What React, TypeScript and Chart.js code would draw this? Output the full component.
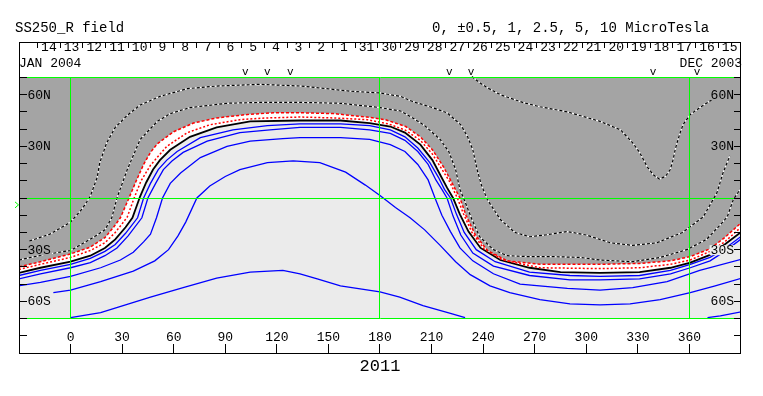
import React, { useEffect, useRef } from 'react';
import { Chart, registerables } from 'chart.js';

Chart.register(...registerables);

type Pt = [number, number];

// ---- axes / frame values ----
const LON_MIN = -29.4;
const LON_MAX = 390;
const LAT_MIN = -90;
const LAT_MAX = 90;
const FIELD_TOP = 70;
const FIELD_BOTTOM = -70;

const titleLeft = 'SS250_R field';
const titleRight = '0, \u00b10.5, 1, 2.5, 5, 10 MicroTesla';
const yearLabel = '2011';
const startDateLabel = 'JAN 2004';
const endDateLabel = 'DEC 2003';

const lonTickValues = [0, 30, 60, 90, 120, 150, 180, 210, 240, 270, 300, 330, 360];
const latLabelValues = [60, 30, -30, -60];
const latLabelTexts = ['60N', '30N', '30S', '60S'];
const latMinorTicks = [-80, -70, -60, -50, -40, -30, -20, -10, 0, 10, 20, 30, 40, 50, 60, 70];
const dayLabels = ['14', '13', '12', '11', '10', '9', '8', '7', '6', '5', '4', '3', '2', '1', '31',
  '30', '29', '28', '27', '26', '25', '24', '23', '22', '21', '20', '19', '18', '17', '16', '15'];
const firstDayTickLon = -19.2;
const degPerDay = 13.2;
const markerLons = [101.6, 114.4, 127.8, 220.3, 233.0, 338.9, 364.5];
const earthLat = -4;
const greenLons = [0, 180, 360];
const greenLats = [70, 0, -70];

// ---- contours (lon, lat) ----
const pos10: Pt[] = [[233.5, 70.5], [238, 67], [242.5, 64], [250, 60], [263, 55.5], [273, 53], [289, 50], [308, 44.5], [320, 39.5], [327, 32], [331, 26.5], [335.5, 18], [339, 13.5], [342.5, 11], [346, 12.5], [348.8, 16.4], [350.5, 22.2], [351.7, 28], [352.8, 32], [354.6, 37.9], [356.3, 42.6], [360.4, 48.4], [366, 52.5], [373, 57], [380, 62]];
const pos5: Pt[] = [[-24, -25], [-12, -21], [0, -14], [7, -6], [11.5, 1], [15.5, 12], [17, 20.5], [21, 32], [26, 41], [33, 48], [40.5, 54], [52, 59], [68, 63.5], [85, 65], [110, 66], [134, 65], [163, 62], [180, 61], [192, 59], [199, 56], [209, 53], [219, 49.5], [227, 42.5], [231, 35.5], [234, 28], [236.5, 16.5], [239, 7.5], [242.5, -1], [250, -12.5], [258.5, -20], [267, -22.5], [276, -21.5], [289, -19.5], [300, -21.5], [314, -26], [327, -27.5], [341, -26], [356, -20], [368, -11], [376, 3], [379.5, 14.5], [383.5, 24.5]];
const pos2_5: Pt[] = [[-30, -36], [-16, -33], [0, -30.5], [13, -23], [20, -18.5], [24, -11.5], [27, 0], [33, 16.5], [40.5, 34], [50.5, 44.5], [58, 49], [69.5, 52.5], [91, 55], [110, 55.5], [134, 55.5], [157, 55], [180, 52.5], [192, 50.5], [199, 46.5], [206, 42], [215, 34], [220, 27], [224, 16.5], [226.5, 5], [229, -1], [233.5, -12.5], [238, -22.5], [246, -30], [254, -33.5], [265.5, -34], [279, -34], [296.5, -34.5], [308, -36], [327, -37], [343, -34.5], [358.5, -30], [370, -24], [378, -15.5], [382, -11], [385.5, -1], [390.5, 6.5]];
const pos1: Pt[] = [[-30, -40], [-17.5, -37], [0, -32.5], [11.5, -28.5], [20, -23], [25, -17], [29, -11.5], [34, 0], [38, 9.5], [42.5, 19.5], [46.5, 26.5], [50.5, 31.5], [60, 38.5], [71.5, 43.5], [85, 46.5], [103, 48.5], [118, 49.5], [134, 49.5], [153, 49], [172.5, 47], [183, 45.5], [195, 41.5], [203.5, 35.5], [210.5, 28], [217, 18], [221.5, 9.5], [226.5, 0], [230, -10], [235.5, -21.5], [242.5, -30.5], [254, -36.5], [273, -38.5], [308, -38.5], [331, -38], [349, -36.5], [360.5, -34], [372, -29.5], [380.5, -23], [390.5, -14]];
const pos0_5: Pt[] = [[-30, -41.5], [-17.5, -38.5], [0, -34.5], [11.5, -30.5], [20, -26], [26, -20], [30, -15], [33, -11], [37, 0], [41, 10], [46.5, 19], [56, 30], [68, 38], [81, 42.5], [98.5, 45.5], [114.5, 46.5], [133.5, 47], [153, 46.5], [172.5, 45.5], [185, 43], [194.5, 39.5], [203.5, 33.5], [210.5, 25.5], [215.5, 17.5], [220.5, 9.5], [225, 0], [228.5, -9], [233.5, -20], [240.5, -29.5], [251.5, -36], [273, -40.5], [308, -41], [331, -40.5], [349, -38.5], [360.5, -36], [372, -31], [380.5, -25.5], [390.5, -16.5]];
const zeroLine: Pt[] = [[-30, -43.5], [-17.5, -40.5], [0, -37], [11.5, -33.5], [20, -29], [26, -24], [32, -17], [36, -11.5], [40.5, 1], [44, 9], [48, 16.5], [52, 22], [58, 28], [69.5, 35.5], [85, 41], [104.5, 44.5], [133.5, 45], [157, 45], [174, 43.5], [186, 41.5], [194.5, 38], [203.5, 31], [210.5, 22], [215, 13.5], [219, 6], [222.5, 0], [226.5, -9.5], [231.5, -19.5], [238.5, -29], [250, -36], [267, -40.5], [285, -43], [308, -43.5], [331, -43], [349, -40.5], [360.5, -37.5], [372, -33], [380.5, -27], [390.5, -19.5]];
const neg0_5: Pt[] = [[-30, -45], [-17.5, -42], [0, -38.5], [11.5, -35], [20, -31], [26, -27], [32, -20.5], [39, -11.5], [42.5, 0], [46.5, 8.5], [51, 16.5], [56, 22], [62, 27], [75.5, 35], [94.5, 39.5], [114.5, 42], [133.5, 43], [157, 43], [174, 42], [186, 39.5], [194.5, 35.5], [202, 29], [209, 20.5], [214, 12], [217.5, 5], [221, 0], [224.5, -9.5], [229, -20], [236, -30], [247, -37], [267, -43], [290.5, -45], [308, -45.5], [331, -45], [349, -42], [360.5, -38.5], [372, -34.5], [380.5, -29.5], [390.5, -22]];
const neg1: Pt[] = [[-30, -47], [-17.5, -44], [0, -40.5], [11.5, -37.5], [20, -33.5], [27, -29], [33.5, -22], [41.5, -11.5], [45, 0], [49.5, 8.5], [54, 16.5], [59, 21.5], [65.5, 26.5], [79.5, 33], [98.5, 38], [116, 39.5], [133.5, 41], [157, 41], [174, 39.5], [186, 37.5], [194.5, 33.5], [202, 27], [208, 19.5], [212.5, 10.5], [216, 5], [219, 0], [222.5, -10.5], [227, -21.5], [234, -32], [246, -39.5], [267, -45], [290.5, -47.5], [308, -47.5], [331, -47], [349, -44], [360.5, -40.5], [372, -36.5], [380.5, -31], [390.5, -23.5]];
const neg2_5: Pt[] = [[-30, -51], [-17.5, -49], [0, -45.5], [17.5, -40.5], [29, -36], [36.5, -31.5], [42.5, -25.5], [46.5, -21], [50, -11.5], [53.5, 0], [58, 8.5], [64, 14.5], [75.5, 23.5], [91, 30], [104.5, 33], [123.5, 34.5], [133.5, 35], [157, 35], [174, 34], [186, 31], [194.5, 27], [202, 19.5], [208, 10.5], [212, 0], [216, -10], [221, -19.5], [226.5, -29], [234, -36.5], [246, -44], [261.5, -50], [289, -52.5], [308, -53.5], [327, -52], [347, -48.5], [366, -42], [390.5, -35.5]];
const neg5: Pt[] = [[-10, -55], [0, -53.5], [17.5, -48.5], [36.5, -42.5], [49, -36.5], [57, -30], [62.5, -22], [67, -14], [73.5, 0], [81, 7], [90, 12.5], [98.5, 16.5], [114.5, 20.5], [129.5, 21.5], [145, 20.5], [160, 15], [171.5, 7.5], [180, 1.5], [189, -5.5], [197.5, -11.5], [206, -18.5], [215, -27.5], [224, -37], [232.5, -44.5], [244, -51], [255.5, -55], [273, -59], [290.5, -61.5], [308, -62], [325.5, -61.5], [343, -59], [360.5, -55], [375, -51], [390.5, -46.5]];
const neg10: Pt[] = [[0, -69.5], [17.5, -66.5], [32, -62], [46.5, -57.5], [65.5, -52], [85, -46.5], [104.5, -43], [123.5, -42], [133.5, -44], [143.5, -47], [157, -51], [180, -54.5], [191.5, -57.5], [205, -62.5], [221, -67], [229.5, -69.5]];
const neg10East: Pt[] = [[370.5, -69.5], [378, -68.5], [390.5, -66]];

const DARK = '#a4a4a4';
const LIGHT = '#ebebeb';
const BLUE = '#0000ff';
const RED = '#ff0000';
const LABEL_FONT = '13px "Liberation Mono"';

const toXY = (pts: Pt[]) => pts.map(([x, y]) => ({ x, y }));
const lineBase = { pointRadius: 0, pointHoverRadius: 0, tension: 0, fill: false, borderCapStyle: 'butt' };

type Box = { x: number; y: number; w: number; h: number; color: string };

const labelBoxes = (chart: any) => {
  const { ctx, chartArea: a, scales } = chart;
  ctx.save();
  ctx.font = LABEL_FONT;
  const boxes: { text: string; lat: number; left: number; w: number }[] = [];
  latLabelValues.forEach((lat, i) => {
    const w = ctx.measureText(latLabelTexts[i]).width;
    boxes.push({ text: latLabelTexts[i], lat, left: a.left + 7.5, w });
    boxes.push({ text: latLabelTexts[i], lat, left: a.right - 7 - w, w });
  });
  ctx.restore();
  return boxes.map((b) => ({ ...b, y: scales.y.getPixelForValue(b.lat) + 0.5 }));
};

const decor = {
  id: 'decor',
  beforeDraw(chart: any) {
    const { ctx, chartArea: a, scales } = chart;
    ctx.save();
    ctx.fillStyle = '#ffffff';
    ctx.fillRect(0, 0, chart.width, chart.height);
    const t = scales.y.getPixelForValue(FIELD_TOP);
    const b = scales.y.getPixelForValue(FIELD_BOTTOM);
    ctx.fillStyle = LIGHT;
    ctx.fillRect(a.left, t, a.right - a.left, b - t);
    ctx.restore();
  },
  beforeDatasetsDraw(chart: any) {
    // fills are already painted here: remember the field colour under each side label
    const { ctx } = chart;
    const boxes: Box[] = labelBoxes(chart).map((b) => {
      const d = ctx.getImageData(Math.round(b.left + b.w / 2), Math.round(b.y), 1, 1).data;
      return { x: b.left - 1, y: b.y - 5, w: b.w + 2, h: 10, color: `rgb(${d[0]},${d[1]},${d[2]})` };
    });
    chart.$labelBoxes = boxes;
  },
  afterDatasetsDraw(chart: any) {
    const { ctx, chartArea: a, scales } = chart;
    const X = (v: number) => scales.x.getPixelForValue(v);
    const Y = (v: number) => scales.y.getPixelForValue(v);
    const al = (p: number) => Math.floor(p) + 0.5;
    ctx.save();
    ctx.lineWidth = 1;
    ctx.setLineDash([]);
    // green reference lines
    ctx.strokeStyle = '#00ff00';
    ctx.beginPath();
    greenLons.forEach((lon) => {
      const px = al(X(lon));
      ctx.moveTo(px, Y(FIELD_TOP));
      ctx.lineTo(px, Y(FIELD_BOTTOM));
    });
    greenLats.forEach((lat) => {
      const py = al(Y(lat));
      ctx.moveTo(a.left, py);
      ctx.lineTo(a.right, py);
    });
    ctx.stroke();
    // label backgrounds
    (chart.$labelBoxes || []).forEach((b: Box) => {
      ctx.fillStyle = b.color;
      ctx.fillRect(b.x, b.y, b.w, b.h);
    });
    // frame
    ctx.strokeStyle = '#000000';
    ctx.strokeRect(a.left - 0.5, a.top - 0.5, a.right - a.left, a.bottom - a.top + 1);
    ctx.beginPath();
    latMinorTicks.forEach((lat) => {
      const py = al(Y(lat));
      ctx.moveTo(a.left, py);
      ctx.lineTo(a.left + 7, py);
      ctx.moveTo(a.right - 7, py);
      ctx.lineTo(a.right, py);
    });
    lonTickValues.forEach((lon) => {
      const px = al(X(lon));
      ctx.moveTo(px, a.bottom);
      ctx.lineTo(px, a.bottom - 9);
    });
    for (let k = 0; k <= dayLabels.length; k++) {
      const px = al(X(firstDayTickLon + k * degPerDay));
      if (px > a.right - 1) continue;
      ctx.moveTo(px, a.top);
      ctx.lineTo(px, a.top + 5);
    }
    ctx.stroke();
    // texts
    ctx.fillStyle = '#000000';
    ctx.textBaseline = 'middle';
    ctx.font = LABEL_FONT;
    ctx.textAlign = 'left';
    labelBoxes(chart).forEach((b) => ctx.fillText(b.text, b.left, b.y));
    ctx.textAlign = 'center';
    lonTickValues.forEach((lon) => ctx.fillText(String(lon), X(lon), 338));
    dayLabels.forEach((d, k) => ctx.fillText(d, X(firstDayTickLon + (k + 0.5) * degPerDay), 48));
    ctx.textAlign = 'left';
    ctx.fillText(startDateLabel, a.left - 1, 63.5);
    ctx.textAlign = 'right';
    ctx.fillText(endDateLabel, a.right + 1, 63.5);
    ctx.font = '11px "Liberation Mono"';
    ctx.textAlign = 'center';
    markerLons.forEach((lon) => ctx.fillText('v', X(lon), 72));
    ctx.font = '17px "Liberation Mono"';
    ctx.fillText(yearLabel, X(180), 366);
    ctx.font = '14px "Liberation Mono"';
    ctx.textAlign = 'left';
    ctx.fillText(titleLeft, 15, 28);
    ctx.fillText(titleRight, 432, 28);
    // earth latitude marker
    ctx.strokeStyle = '#00ff00';
    const ey = Y(earthLat);
    ctx.beginPath();
    ctx.moveTo(15, ey - 3);
    ctx.lineTo(18.5, ey);
    ctx.lineTo(15, ey + 3);
    ctx.stroke();
    ctx.restore();
  },
};

export default function App() {
  const ref = useRef<HTMLCanvasElement | null>(null);
  useEffect(() => {
    if (!ref.current) return;
    const dashed = (pts: Pt[]) => ({ ...lineBase, data: toXY(pts), borderColor: '#000000', borderWidth: 1.2, borderDash: [3, 2] });
    const underlay = (pts: Pt[]) => ({ ...lineBase, data: toXY(pts), borderColor: '#ffffff', borderWidth: 1.2 });
    const blue = (pts: Pt[]) => ({ ...lineBase, data: toXY(pts), borderColor: BLUE, borderWidth: 1.3 });
    const chart = new Chart(ref.current, {
      type: 'line',
      data: {
        datasets: [
          dashed(pos10),
          dashed(pos5),
          dashed(pos2_5),
          underlay(pos10),
          underlay(pos5),
          underlay(pos2_5),
          { ...lineBase, data: toXY(pos1), borderColor: RED, borderWidth: 1.5, borderDash: [3, 2], fill: { value: FIELD_TOP }, backgroundColor: DARK },
          { ...lineBase, data: toXY(pos0_5), borderColor: RED, borderWidth: 1.5, borderDash: [2, 2] },
          { ...lineBase, data: toXY(zeroLine), borderColor: '#000000', borderWidth: 1.8, fill: { value: FIELD_TOP }, backgroundColor: '#ffffff' },
          blue(neg0_5),
          blue(neg1),
          blue(neg2_5),
          blue(neg5),
          blue(neg10),
          blue(neg10East),
        ] as any,
      },
      options: {
        animation: false,
        responsive: false,
        maintainAspectRatio: false,
        devicePixelRatio: 1,
        events: [],
        layout: { padding: { left: 20, right: 22, top: 43, bottom: 43 } },
        scales: {
          x: { type: 'linear', min: LON_MIN, max: LON_MAX, display: false },
          y: { type: 'linear', min: LAT_MIN, max: LAT_MAX, display: false },
        },
        plugins: {
          legend: { display: false },
          tooltip: { enabled: false },
          title: { display: false },
          filler: { propagate: false, drawTime: 'beforeDatasetsDraw' },
        } as any,
      },
      plugins: [decor],
    } as any);
    return () => chart.destroy();
  }, []);
  return (
    <div style={{ position: 'fixed', left: 0, top: 0, width: 763, height: 396, background: '#fff' }}>
      <canvas ref={ref} width={763} height={396} style={{ display: 'block', width: 763, height: 396 }} />
    </div>
  );
}
